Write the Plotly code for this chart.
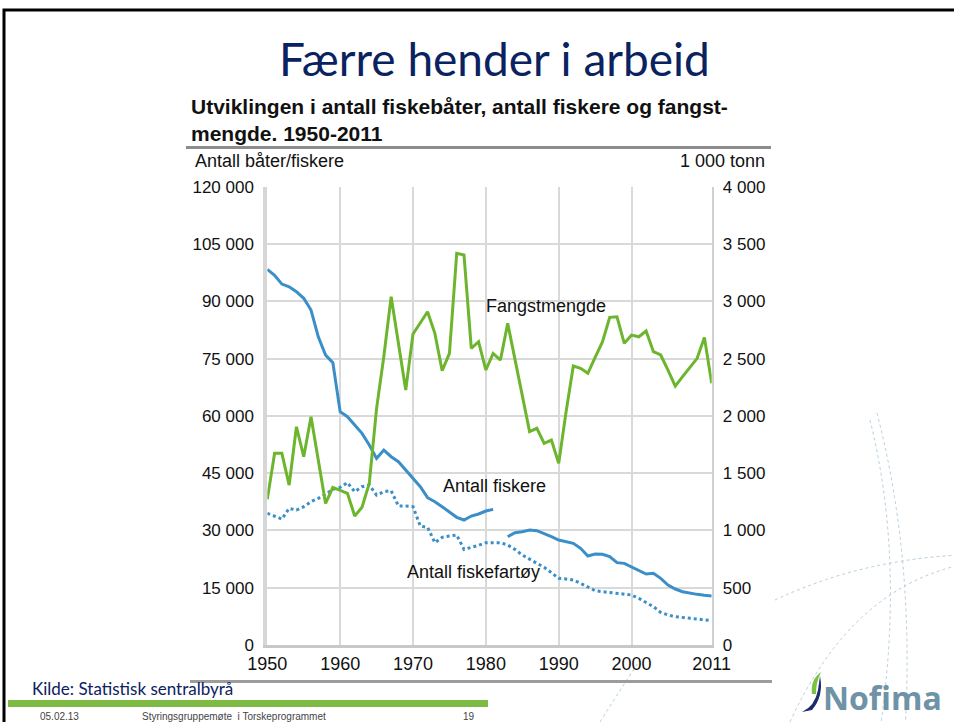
import plotly.graph_objects as go

W, H = 954, 722

years = list(range(1950, 2012))

# Antall fiskere (1982 missing)
fiskere = [98360, 96800, 94500, 93800, 92500, 90770, 87700, 80700, 75900, 73900,
           61080, 59780, 57600, 55420, 52360, 48870, 51050, 49300, 47990, 45815,
           43900, 41450, 38570, 37520, 36210, 34900, 33430, 32725, 33770, 34300,
           35080, 35520, None, 28360, 29410, 29670, 30100, 29930, 29240, 28360,
           27490, 27050, 26620, 25310, 23300, 23820, 23740, 23130, 21560, 21380,
           20510, 19460, 18590, 18760, 17450, 15710, 14660, 13960, 13530, 13260,
           13000, 12830]

# Antall fiskefartøy
fartoy = [34470, 33770, 32990, 35780, 35340, 36210, 37520, 38400, 39440, 40750,
          41270, 42500, 40140, 41450, 41890, 39270, 40140, 40400, 36390, 36390,
          36210, 31150, 30800, 26790, 28190, 28540, 28800, 25040, 25480, 26090,
          26790, 26790, 26790, 26180, 25040, 23560, 22430, 21380, 20330, 18940,
          17450, 17280, 17020, 16140, 15100, 14220, 13960, 13790, 13530, 13350,
          13090, 12220, 11080, 10040, 8550, 7850, 7420, 7240, 6980, 6720,
          6545, 6370]

# Fangstmengde, 1 000 tonn
fangst = [1271, 1673, 1673, 1396, 1905, 1643, 1993, 1615, 1236, 1376,
          1353, 1324, 1126, 1202, 1411, 2065, 2520, 3040, 2633, 2225,
          2714, 2807, 2909, 2720, 2394, 2545, 3418, 3404, 2589, 2647,
          2400, 2545, 2487, 2807, 2490, 2170, 1862, 1891, 1760, 1789,
          1585, 2030, 2435, 2415, 2371, 2510, 2645, 2860, 2865, 2633,
          2705, 2690, 2740, 2560, 2531, 2400, 2260, 2342, 2423, 2502,
          2685, 2284]

x_ticks = [1950, 1960, 1970, 1980, 1990, 2000, 2011]
x_ticktext = ["1950", "1960", "1970", "1980", "1990", "2000", "2011"]
y_left_ticks = [0, 15000, 30000, 45000, 60000, 75000, 90000, 105000, 120000]
y_left_text = ["0", "15 000", "30 000", "45 000", "60 000", "75 000", "90 000", "105 000", "120 000"]
y_right_ticks = [0, 500, 1000, 1500, 2000, 2500, 3000, 3500, 4000]
y_right_text = ["0", "500", "1 000", "1 500", "2 000", "2 500", "3 000", "3 500", "4 000"]

BLUE = "#3b8fc8"
GREEN = "#6cb52d"
GRID = "#d9d9d9"
NAVY = "#0b2260"
ARIAL = "Liberation Sans, Arial, sans-serif"
TITLEFONT = "Lato, Noto Sans, sans-serif"


def px(x):
    return x / W


def py(y):
    return 1 - y / H


fig = go.Figure()
fig.add_trace(go.Scatter(x=years, y=fangst, yaxis="y2", mode="lines",
                         line=dict(color=GREEN, width=3), connectgaps=False,
                         name="Fangstmengde", hoverinfo="x+y"))
fig.add_trace(go.Scatter(x=years, y=fartoy, mode="lines",
                         line=dict(color=BLUE, width=3, dash="dot"),
                         name="Antall fiskefartøy"))
fig.add_trace(go.Scatter(x=years, y=fiskere, mode="lines",
                         line=dict(color=BLUE, width=3), connectgaps=False,
                         name="Antall fiskere"))

x0d, x1d = px(267.3), px(711.7)
y0d, y1d = py(645), py(186.7)

fig.update_layout(
    width=W, height=H,
    margin=dict(l=0, r=0, t=0, b=0, pad=0, autoexpand=False),
    paper_bgcolor="white", plot_bgcolor="white",
    showlegend=False,
    xaxis=dict(domain=[x0d, x1d], range=[1950, 2011], tickvals=x_ticks, ticktext=x_ticktext,
               showgrid=True, gridcolor=GRID, gridwidth=1.5, zeroline=False, automargin=False,
               showline=True, linecolor="#c8c8c8", linewidth=3, ticks="",
               tickfont=dict(family=ARIAL, size=18, color="#111"), fixedrange=True),
    yaxis=dict(domain=[y0d, y1d], range=[0, 120000], tickvals=y_left_ticks, ticktext=y_left_text,
               showgrid=True, gridcolor=GRID, gridwidth=1.5, zeroline=False, automargin=False,
               showline=True, linecolor="#d6d6d6", linewidth=4, ticks="",
               ticklabelstandoff=6,
               tickfont=dict(family=ARIAL, size=17, color="#111"), fixedrange=True),
    yaxis2=dict(range=[0, 4000], overlaying="y", side="right", tickvals=y_right_ticks,
                ticktext=y_right_text, showgrid=False, zeroline=False, automargin=False,
                showline=True, linecolor="#d0d0d0", linewidth=1.5, ticks="",
                ticklabelstandoff=6,
                tickfont=dict(family=ARIAL, size=17, color="#111"), fixedrange=True),
)

ann = []
ann.append(dict(text="Færre hender i arbeid", x=px(494), y=py(58), xref="paper", yref="paper",
                showarrow=False, font=dict(family=TITLEFONT, size=46, color=NAVY),
                xanchor="center", yanchor="middle"))
ann.append(dict(text="<b>Utviklingen i antall fiskebåter, antall fiskere og fangst-<br>mengde. 1950-2011</b>",
                x=px(189), y=py(93), xref="paper", yref="paper", showarrow=False,
                font=dict(family=ARIAL, size=21, color="#111"), xanchor="left", yanchor="top",
                align="left"))
ann.append(dict(text="Antall båter/fiskere", x=px(193), y=py(161), xref="paper", yref="paper",
                showarrow=False, font=dict(family=ARIAL, size=18, color="#111"),
                xanchor="left", yanchor="middle"))
ann.append(dict(text="1 000 tonn", x=px(767), y=py(161), xref="paper", yref="paper",
                showarrow=False, font=dict(family=ARIAL, size=18, color="#111"),
                xanchor="right", yanchor="middle"))
ann.append(dict(text="Fangstmengde", x=px(546), y=py(306), xref="paper", yref="paper",
                showarrow=False, font=dict(family=ARIAL, size=18, color="#111"),
                xanchor="center", yanchor="middle"))
ann.append(dict(text="Antall fiskere", x=px(494), y=py(486), xref="paper", yref="paper",
                showarrow=False, font=dict(family=ARIAL, size=18, color="#111"),
                xanchor="center", yanchor="middle"))
ann.append(dict(text="Antall fiskefartøy", x=px(473), y=py(572), xref="paper", yref="paper",
                showarrow=False, font=dict(family=ARIAL, size=18, color="#111"),
                xanchor="center", yanchor="middle"))
ann.append(dict(text="Kilde: Statistisk sentralbyrå", x=px(30), y=py(688), xref="paper", yref="paper",
                showarrow=False, font=dict(family=TITLEFONT, size=17, color=NAVY),
                xanchor="left", yanchor="middle"))
ann.append(dict(text="05.02.13", x=px(38), y=py(716), xref="paper", yref="paper",
                showarrow=False, font=dict(family=ARIAL, size=10, color="#444"),
                xanchor="left", yanchor="middle"))
ann.append(dict(text="Styringsgruppemøte  i Torskeprogrammet", x=px(140), y=py(716), xref="paper",
                yref="paper", showarrow=False, font=dict(family=ARIAL, size=10, color="#444"),
                xanchor="left", yanchor="middle"))
ann.append(dict(text="19", x=px(469), y=py(716), xref="paper", yref="paper",
                showarrow=False, font=dict(family=ARIAL, size=10, color="#444"),
                xanchor="center", yanchor="middle"))
ann.append(dict(text="<b>Nofima</b>", x=px(821), y=py(697), xref="paper", yref="paper",
                showarrow=False, font=dict(family="Open Sans, sans-serif", size=32, color="#6e92a6"),
                xanchor="left", yanchor="middle"))
fig.update_layout(annotations=ann)

shapes = []
# slide border
shapes.append(dict(type="rect", xref="paper", yref="paper", x0=px(4), x1=px(990), y0=py(760), y1=py(10),
                   line=dict(color="black", width=3), fillcolor="rgba(0,0,0,0)", layer="below"))
# green footer bar
shapes.append(dict(type="rect", xref="paper", yref="paper", x0=px(8), x1=px(488), y0=py(707), y1=py(700),
                   line=dict(width=0), fillcolor="#7dbb45"))
# subtitle underline
shapes.append(dict(type="rect", xref="paper", yref="paper", x0=px(186), x1=px(771), y0=py(149), y1=py(146),
                   line=dict(width=0), fillcolor="#8c8c8c", opacity=1))
# chart bottom line
shapes.append(dict(type="rect", xref="paper", yref="paper", x0=px(190), x1=px(772), y0=py(683), y1=py(680),
                   line=dict(width=0), fillcolor="#9c9c9c", opacity=1))


def ppath(points_cmd):
    out = []
    for item in points_cmd:
        if isinstance(item, str):
            out.append(item)
        else:
            out.append(f"{px(item[0]):.5f},{py(item[1]):.5f}")
    return " ".join(out)


# decorative dotted arcs
arcs = [
    ["M", (877, 413), "Q", (915, 560), (905, 730)],
    ["M", (870, 420), "Q", (905, 560), (880, 730)],
    ["M", (775, 600), "Q", (860, 560), (960, 555)],
    ["M", (790, 722), "Q", (850, 590), (960, 565)],
    ["M", (600, 722), "Q", (620, 690), (640, 660)],
]
for a in arcs:
    shapes.append(dict(type="path", xref="paper", yref="paper", path=ppath(a),
                       line=dict(color="#b5cfdd", width=1, dash="dot"), layer="below"))

# Nofima swoosh logo
shapes.append(dict(type="path", xref="paper", yref="paper",
                   path=ppath(["M", (802, 712), "Q", (815, 706), (818, 690), "L", (820, 676),
                               "Q", (824, 696), (812, 710), "Z"]),
                   fillcolor="#1d2a6b", line=dict(width=0)))
shapes.append(dict(type="path", xref="paper", yref="paper",
                   path=ppath(["M", (812, 694), "Q", (810, 680), (821, 672), "Q", (816, 682), (816, 694), "Z"]),
                   fillcolor="#7cc242", line=dict(width=0)))
fig.update_layout(shapes=shapes)

fig.write_html("out.html", config={"displayModeBar": False},
               post_script="document.body.style.margin='0';document.body.style.overflow='hidden';")
